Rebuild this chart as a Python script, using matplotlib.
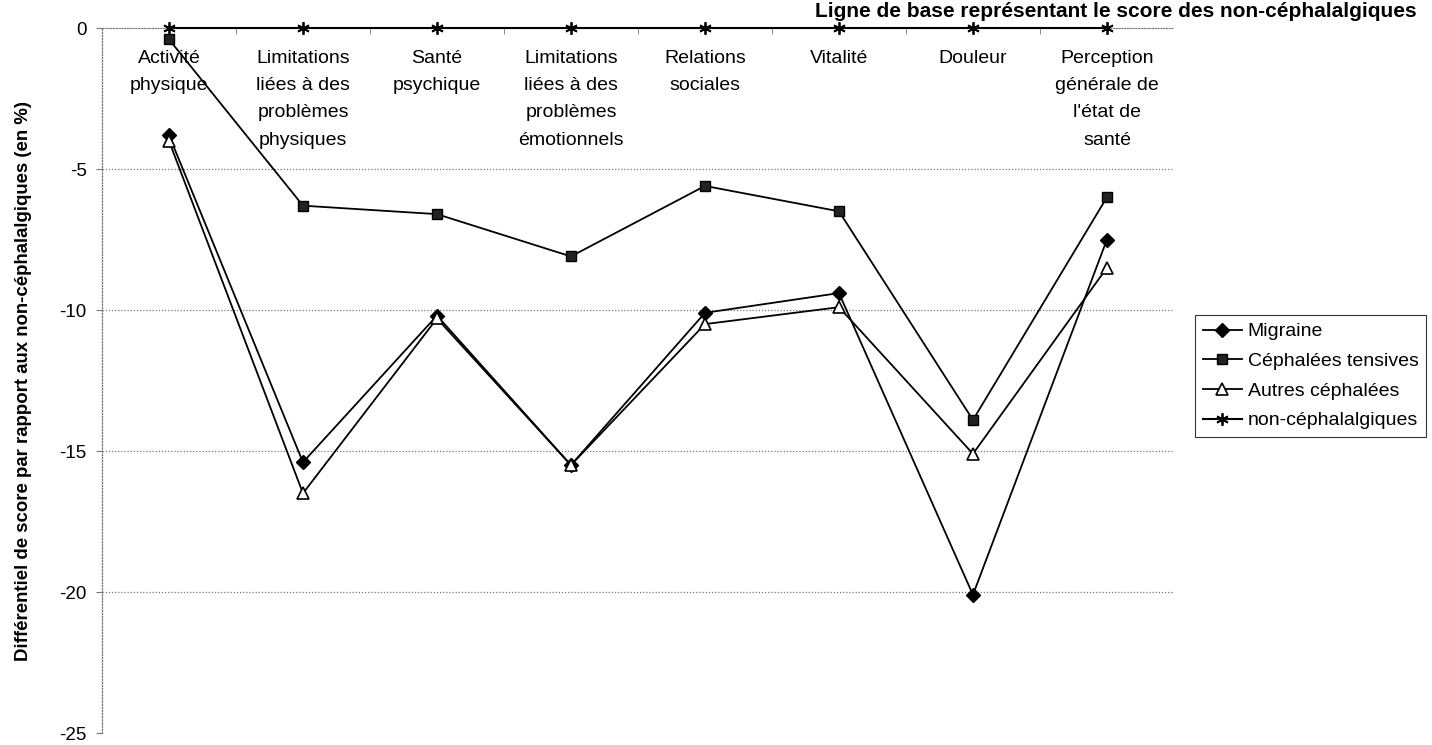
import matplotlib
matplotlib.use('Agg')
import matplotlib.pyplot as plt
import numpy as np

plt.rcParams['font.family'] = ['Liberation Sans', 'DejaVu Sans']

categories = ['Activité\nphysique',
              'Limitations\nliées à des\nproblèmes\nphysiques',
              'Santé\npsychique',
              'Limitations\nliées à des\nproblèmes\némotionnels',
              'Relations\nsociales',
              'Vitalité',
              'Douleur',
              'Perception\ngénérale de\nl\'état de\nsanté']

migraine = [-3.8, -15.4, -10.2, -15.5, -10.1, -9.4, -20.1, -7.5]
tensives = [-0.4, -6.3, -6.6, -8.1, -5.6, -6.5, -13.9, -6.0]
autres = [-4.0, -16.5, -10.3, -15.5, -10.5, -9.9, -15.1, -8.5]
non_ceph = [0, 0, 0, 0, 0, 0, 0, 0]

yticks = [0, -5, -10, -15, -20, -25]

fig = plt.figure(figsize=(14.32, 7.45), dpi=100)
ax = fig.add_axes([0.0712, 0.0161, 0.7486, 0.9463])

x = np.arange(len(categories))

ax.plot(x, migraine, color='black', lw=1.3, marker='D', ms=7,
        mfc='black', mec='black', label='Migraine', zorder=4)
ax.plot(x, tensives, color='black', lw=1.3, marker='s', ms=7.5,
        mfc='#222222', mec='black', label='Céphalées tensives', zorder=4)
ax.plot(x, autres, color='black', lw=1.3, marker='^', ms=8.5,
        mfc='white', mec='black', mew=1.2, label='Autres céphalées', zorder=4)
ax.plot(x, non_ceph, color='black', lw=1.5, marker=(6, 2, 0), ms=9,
        mec='black', mew=1.3, label='non-céphalalgiques', zorder=5,
        clip_on=False)

ax.set_xlim(-0.5, len(categories) - 0.5)
ax.set_ylim(-25, 0)

for y in yticks[1:-1]:
    ax.axhline(y, color='#777777', lw=0.9, ls=(0, (1, 1.5)), zorder=1)

for s in ['top', 'right']:
    ax.spines[s].set_visible(False)
ax.spines['bottom'].set_position(('data', 0))
ax.spines['bottom'].set_color('#777777')
ax.spines['bottom'].set_linestyle((0, (1, 1.5)))
ax.spines['left'].set_color('#777777')
ax.spines['left'].set_linestyle((0, (1, 1.5)))
ax.spines['left'].set_linewidth(0.9)

ax.set_xticks(x)
ax.set_xticklabels(categories, fontsize=14, linespacing=1.8, va='top')
ax.set_xticks(np.arange(0.5, len(categories) - 0.5, 1), minor=True)
ax.tick_params(axis='x', which='major', length=0, pad=15.5)
ax.tick_params(axis='x', which='minor', length=4, color='#777777', direction='out')

ax.set_yticks(yticks)
ax.set_yticklabels([str(v) for v in yticks], fontsize=13.5)
ax.tick_params(axis='y', length=4, color='#777777', pad=7)

ax.set_ylabel('Différentiel de score par rapport aux non-céphalalgiques (en %)',
              fontsize=13.4, fontweight='bold', labelpad=20)

fig.text(0.5691, 0.984, 'Ligne de base représentant le score des non-céphalalgiques',
         fontsize=15, fontweight='bold', ha='left', va='center')

leg = ax.legend(loc='upper left', bbox_to_anchor=(0.8345, 0.5772),
                bbox_transform=fig.transFigure, fontsize=14, frameon=True,
                fancybox=False, edgecolor='black', borderaxespad=0,
                handlelength=2.0, handletextpad=0.3, borderpad=0.4,
                labelspacing=0.62)
leg.get_frame().set_linewidth(0.8)

fig.savefig('out.png', dpi=100)
